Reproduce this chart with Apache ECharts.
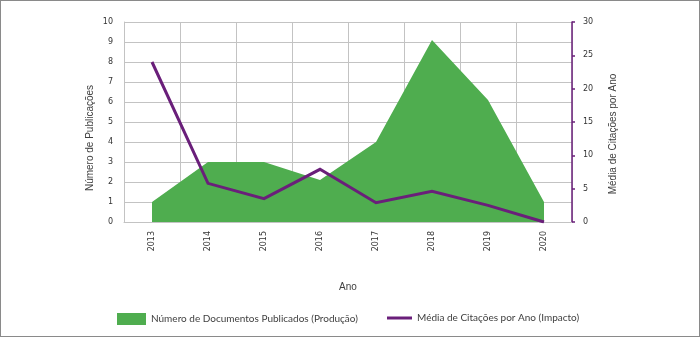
<!DOCTYPE html>
<html>
<head>
<meta charset="utf-8">
<script src="https://cdn.jsdelivr.net/npm/echarts@6/dist/echarts.min.js"></script>
<style>
  html, body { margin: 0; padding: 0; background: #fff; }
  #chart { width: 700px; height: 337px; box-sizing: border-box; border: 1px solid #8a8a8a; }
</style>
</head>
<body>
<div id="chart"></div>
<script>
const anos = ["2013", "2014", "2015", "2016", "2017", "2018", "2019", "2020"];
const documentos = [1, 3, 3, 2.1, 4, 9.1, 6.1, 1];
const citacoes = [24, 5.8, 3.5, 7.9, 2.9, 4.6, 2.5, 0];

const nomeProducao = "Número de Documentos Publicados (Produção)";
const nomeImpacto = "Média de Citações por Ano (Impacto)";

const verde = "#4fad4f";
const roxo = "#6a1f7a";
const cinza = "#c3c3c3";
const texto = "#404040";

let myChart = echarts.init(document.getElementById("chart"), null, { renderer: "canvas" });

const chartOption = {
  animation: false,
  grid: { left: 123, right: 127, top: 21, bottom: 114 },
  legend: [
    {
      data: [{ name: nomeProducao, icon: "rect" }],
      left: 111,
      top: 307,
      itemWidth: 29,
      itemHeight: 12,
      itemGap: 5,
      textStyle: { fontFamily: "Lato", fontSize: 10, color: texto },
    },
    {
      data: [{ name: nomeImpacto, icon: "rect" }],
      left: 381,
      top: 307,
      itemWidth: 25,
      itemHeight: 3,
      itemGap: 6,
      textStyle: { fontFamily: "Lato", fontSize: 10, color: texto },
    },
  ],
  xAxis: {
    type: "category",
    data: anos,
    boundaryGap: true,
    name: "Ano",
    nameLocation: "middle",
    nameGap: 60,
    nameTextStyle: { fontFamily: "Liberation Sans", fontSize: 10, color: texto },
    axisLine: { show: true, lineStyle: { color: cinza } },
    axisTick: { show: false },
    axisLabel: {
      rotate: 90,
      margin: 9,
      fontFamily: "DejaVu Sans",
      fontSize: 8,
      color: "#333",
    },
    splitLine: { show: true, interval: 0, lineStyle: { color: cinza } },
  },
  yAxis: [
    {
      type: "value",
      min: 0,
      max: 10,
      interval: 1,
      position: "left",
      axisLine: { show: true, lineStyle: { color: cinza } },
      axisTick: { show: false },
      axisLabel: { margin: 11, fontFamily: "DejaVu Sans", fontSize: 8, color: "#333" },
      splitLine: { show: true, lineStyle: { color: cinza } },
    },
    {
      type: "value",
      min: 0,
      max: 30,
      interval: 5,
      position: "right",
      axisLine: { show: true, lineStyle: { color: roxo, width: 1.5 } },
      axisTick: { show: true, length: 3, lineStyle: { color: roxo, width: 1.5 } },
      axisLabel: { margin: 11, fontFamily: "DejaVu Sans", fontSize: 8, color: "#333" },
      splitLine: { show: false },
    },
  ],
  graphic: [
    {
      type: "text",
      x: 89,
      y: 137,
      rotation: Math.PI / 2,
      style: {
        text: "Número de Publicações",
        font: "10px 'Liberation Sans'",
        fill: texto,
        align: "center",
        verticalAlign: "middle",
      },
    },
    {
      type: "text",
      x: 612,
      y: 133,
      rotation: Math.PI / 2,
      style: {
        text: "Média de Citações por Ano",
        font: "10px 'Liberation Sans'",
        fill: texto,
        align: "center",
        verticalAlign: "middle",
      },
    },
  ],
  series: [
    {
      name: nomeProducao,
      type: "line",
      yAxisIndex: 0,
      data: documentos,
      symbol: "none",
      color: verde,
      lineStyle: { width: 0 },
      areaStyle: { color: verde, opacity: 1 },
      z: 2,
    },
    {
      name: nomeImpacto,
      type: "line",
      yAxisIndex: 1,
      data: citacoes,
      symbol: "none",
      color: roxo,
      lineStyle: { width: 3, color: roxo, join: "miter" },
      z: 3,
    },
  ],
};

myChart.setOption(chartOption);
</script>
</body>
</html>
